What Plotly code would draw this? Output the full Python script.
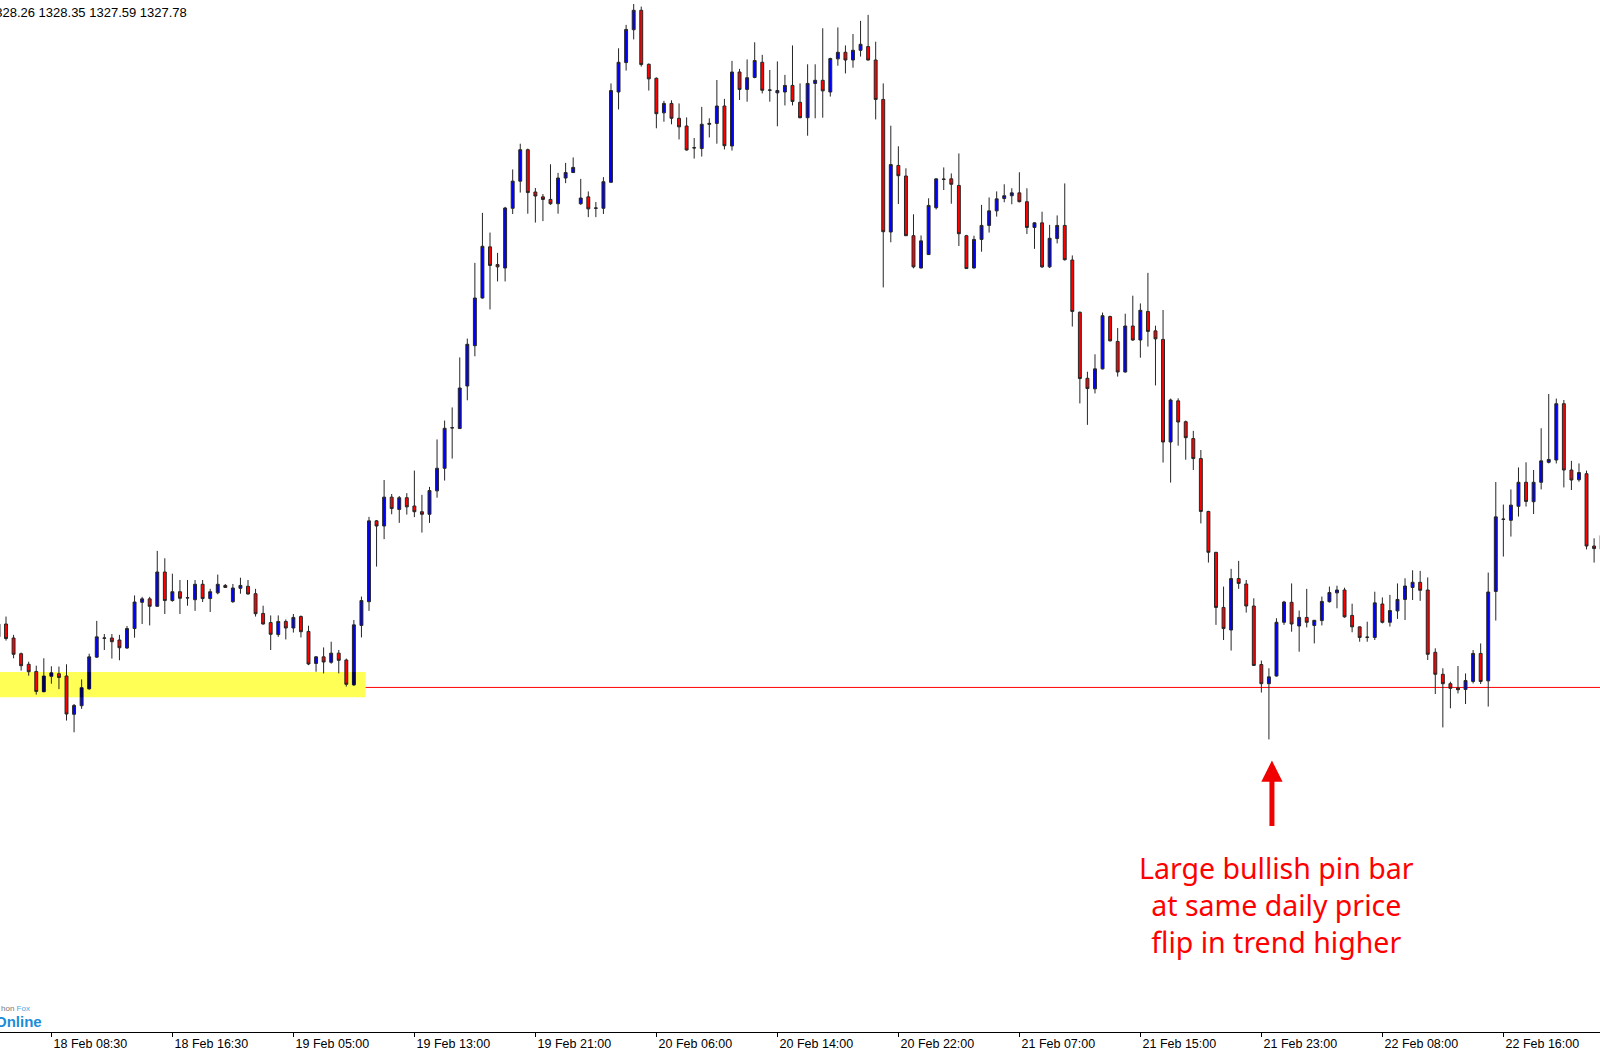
import plotly.graph_objects as go

# ---------------- data (XAUUSD M30) ----------------
open_ = [
    1324.71, 1325.16, 1324.67, 1324.12, 1323.75, 1323.50, 1322.79, 1323.33, 1323.42, 1323.34,
    1322.00, 1322.30, 1322.89, 1324.00, 1324.66, 1324.67, 1324.60, 1324.32, 1325.00, 1325.92,
    1326.04, 1325.78, 1326.98, 1325.98, 1326.29, 1326.07, 1326.01, 1326.55, 1326.05, 1326.25,
    1326.51, 1325.94, 1326.41, 1326.48, 1326.22, 1325.53, 1325.21, 1324.79, 1325.25, 1325.02,
    1325.42, 1324.90, 1323.78, 1324.01, 1323.82, 1324.14, 1323.90, 1323.03, 1325.11, 1325.94,
    1328.77, 1328.59, 1329.60, 1329.17, 1329.58, 1329.29, 1329.09, 1329.00, 1329.82, 1330.61,
    1332.02, 1332.00, 1333.49, 1334.90, 1336.57, 1338.36, 1337.74, 1337.62, 1339.71, 1340.66,
    1341.76, 1340.28, 1340.11, 1340.02, 1339.87, 1340.77, 1340.96, 1339.87, 1340.11, 1339.71,
    1339.71, 1340.62, 1343.78, 1344.81, 1345.96, 1346.64, 1344.75, 1344.26, 1343.05, 1343.38,
    1342.86, 1342.59, 1341.82, 1341.80, 1342.65, 1342.68, 1343.29, 1341.89, 1344.48, 1343.87,
    1344.29, 1344.82, 1343.84, 1343.75, 1343.78, 1344.01, 1343.42, 1342.88, 1344.08, 1344.19,
    1343.78, 1344.94, 1345.17, 1344.90, 1345.24, 1345.37, 1344.90, 1343.52, 1338.88, 1341.21,
    1340.84, 1338.75, 1337.62, 1338.09, 1339.73, 1340.72, 1340.74, 1340.51, 1338.75, 1337.62,
    1338.62, 1339.11, 1339.62, 1340.05, 1340.15, 1340.25, 1339.94, 1339.04, 1339.20, 1337.66,
    1338.65, 1339.11, 1337.90, 1336.07, 1333.76, 1333.39, 1334.09, 1335.92, 1335.05, 1333.98,
    1335.59, 1335.10, 1336.10, 1335.42, 1335.12, 1331.53, 1332.97, 1332.24, 1331.65, 1330.95,
    1329.10, 1327.67, 1325.74, 1324.95, 1326.75, 1326.56, 1325.79, 1323.74, 1323.07, 1323.34,
    1325.22, 1325.92, 1325.09, 1325.39, 1325.11, 1325.28, 1325.94, 1326.25, 1326.35, 1325.46,
    1325.06, 1324.69, 1324.69, 1325.86, 1325.22, 1325.62, 1326.02, 1326.44, 1326.62, 1326.35,
    1324.17, 1323.40, 1323.07, 1322.92, 1322.87, 1323.15, 1324.13, 1323.17, 1326.30, 1328.82,
    1328.79, 1329.28, 1330.12, 1329.44, 1330.12, 1330.82, 1330.90, 1332.87, 1330.55, 1330.21,
    1330.42, 1327.89, 1328.26,
]
high = [
    1325.30, 1325.42, 1324.78, 1324.16, 1323.84, 1323.70, 1323.96, 1323.68, 1323.67, 1323.75,
    1322.36, 1323.22, 1324.12, 1325.27, 1324.81, 1324.81, 1324.78, 1325.09, 1326.16, 1326.11,
    1326.11, 1327.72, 1327.46, 1326.92, 1326.70, 1326.70, 1326.70, 1326.70, 1326.39, 1326.89,
    1326.56, 1326.56, 1326.78, 1326.70, 1326.39, 1325.80, 1325.46, 1325.46, 1325.32, 1325.51,
    1325.46, 1325.10, 1324.04, 1324.34, 1324.54, 1324.25, 1323.95, 1325.30, 1326.12, 1328.91,
    1328.80, 1330.20, 1329.71, 1329.64, 1329.74, 1330.53, 1329.68, 1329.96, 1331.62, 1332.28,
    1332.74, 1334.49, 1335.15, 1337.80, 1339.55, 1338.86, 1338.15, 1339.76, 1341.07, 1341.97,
    1341.80, 1340.42, 1340.21, 1341.25, 1340.95, 1341.30, 1341.49, 1340.74, 1340.30, 1339.93,
    1340.80, 1344.08, 1345.31, 1346.13, 1346.86, 1346.77, 1344.78, 1344.29, 1343.47, 1343.49,
    1343.38, 1342.89, 1342.17, 1343.26, 1342.86, 1344.20, 1343.54, 1344.87, 1344.59, 1344.92,
    1345.52, 1345.08, 1344.55, 1344.85, 1344.38, 1345.41, 1344.08, 1344.75, 1344.75, 1346.01,
    1344.98, 1346.04, 1345.41, 1345.81, 1346.27, 1346.48, 1345.54, 1344.08, 1342.60, 1341.88,
    1341.11, 1339.50, 1338.76, 1340.06, 1340.75, 1341.14, 1340.93, 1341.63, 1338.78, 1338.75,
    1339.83, 1340.09, 1340.30, 1340.55, 1340.41, 1340.97, 1340.41, 1339.22, 1339.59, 1339.13,
    1339.46, 1340.58, 1338.06, 1336.10, 1333.99, 1334.60, 1336.06, 1335.95, 1335.52, 1336.02,
    1336.65, 1336.38, 1337.45, 1335.60, 1336.15, 1333.05, 1333.06, 1332.28, 1331.92, 1331.25,
    1329.12, 1327.68, 1326.47, 1327.09, 1327.37, 1326.70, 1326.06, 1323.88, 1323.61, 1325.36,
    1325.97, 1326.58, 1325.63, 1326.39, 1325.30, 1326.12, 1326.47, 1326.50, 1326.43, 1325.87,
    1325.07, 1325.24, 1326.29, 1326.09, 1326.18, 1326.58, 1326.76, 1327.04, 1327.02, 1326.79,
    1324.31, 1323.61, 1323.14, 1323.69, 1323.43, 1324.25, 1324.48, 1326.96, 1330.13, 1329.34,
    1329.87, 1330.64, 1330.82, 1330.55, 1332.01, 1333.21, 1333.05, 1333.00, 1330.87, 1330.78,
    1330.53, 1328.16, 1328.35,
]
low = [
    1324.60, 1324.58, 1323.96, 1323.53, 1323.35, 1322.69, 1322.77, 1323.07, 1322.88, 1321.78,
    1321.37, 1322.19, 1322.86, 1323.97, 1324.25, 1323.95, 1323.89, 1324.29, 1324.68, 1325.16,
    1325.11, 1325.76, 1325.51, 1325.94, 1325.51, 1325.80, 1325.62, 1325.93, 1325.58, 1326.20,
    1326.42, 1325.90, 1326.22, 1326.19, 1325.42, 1325.14, 1324.25, 1324.71, 1324.62, 1324.86,
    1324.69, 1323.72, 1323.49, 1323.43, 1323.77, 1323.43, 1322.97, 1322.99, 1324.69, 1325.62,
    1327.17, 1328.13, 1329.00, 1328.70, 1328.99, 1328.90, 1328.36, 1328.70, 1329.58, 1330.18,
    1330.95, 1331.99, 1332.99, 1334.53, 1336.55, 1336.17, 1337.15, 1337.15, 1339.51, 1340.26,
    1339.52, 1339.21, 1339.26, 1339.83, 1339.52, 1340.59, 1340.95, 1339.83, 1339.40, 1339.40,
    1339.51, 1340.60, 1343.17, 1344.53, 1345.62, 1344.67, 1343.83, 1342.51, 1342.74, 1342.65,
    1342.12, 1341.73, 1341.45, 1341.52, 1342.19, 1341.97, 1341.77, 1341.73, 1343.50, 1343.44,
    1344.26, 1343.73, 1343.44, 1342.58, 1343.31, 1343.31, 1342.86, 1342.25, 1342.86, 1342.88,
    1343.62, 1344.70, 1344.43, 1344.63, 1345.02, 1344.88, 1342.82, 1336.94, 1338.52, 1339.86,
    1338.74, 1337.61, 1337.60, 1338.08, 1339.67, 1340.35, 1339.87, 1338.39, 1337.59, 1337.60,
    1338.19, 1338.86, 1339.42, 1339.92, 1339.85, 1339.92, 1338.81, 1338.29, 1337.62, 1337.62,
    1338.48, 1337.88, 1335.57, 1332.88, 1332.13, 1333.23, 1334.07, 1335.05, 1333.82, 1333.96,
    1335.07, 1334.48, 1334.87, 1333.51, 1330.81, 1330.11, 1331.40, 1330.91, 1330.55, 1328.68,
    1327.31, 1325.13, 1324.60, 1324.23, 1326.39, 1325.56, 1323.69, 1322.76, 1321.12, 1323.32,
    1325.13, 1324.89, 1324.19, 1325.04, 1324.48, 1325.11, 1325.91, 1325.71, 1325.38, 1324.87,
    1324.54, 1324.54, 1324.60, 1325.18, 1325.07, 1325.34, 1325.30, 1326.00, 1325.97, 1323.90,
    1322.71, 1321.54, 1322.21, 1322.73, 1322.36, 1323.08, 1323.06, 1322.27, 1325.28, 1327.52,
    1328.22, 1328.92, 1329.27, 1329.01, 1329.87, 1330.78, 1330.78, 1329.94, 1329.85, 1330.14,
    1327.77, 1327.31, 1327.59,
]
close = [
    1325.16, 1324.65, 1324.10, 1323.70, 1323.49, 1322.80, 1323.34, 1323.45, 1323.29, 1322.01,
    1322.31, 1322.93, 1324.01, 1324.71, 1324.67, 1324.54, 1324.33, 1325.00, 1325.93, 1326.04,
    1325.78, 1326.98, 1325.98, 1326.29, 1326.06, 1326.08, 1326.55, 1326.05, 1326.29, 1326.55,
    1326.44, 1326.42, 1326.51, 1326.21, 1325.52, 1325.16, 1324.80, 1325.25, 1325.02, 1325.39,
    1324.89, 1323.76, 1324.01, 1323.83, 1324.14, 1323.89, 1323.05, 1325.13, 1325.98, 1328.77,
    1328.59, 1329.60, 1329.20, 1329.58, 1329.26, 1329.09, 1329.00, 1329.83, 1330.61, 1332.01,
    1332.03, 1333.42, 1334.95, 1336.57, 1338.38, 1337.71, 1337.66, 1339.72, 1340.66, 1341.76,
    1340.26, 1340.14, 1340.02, 1339.87, 1340.77, 1340.96, 1341.14, 1340.07, 1339.69, 1339.72,
    1340.64, 1343.83, 1344.82, 1345.97, 1346.64, 1344.74, 1344.24, 1343.02, 1343.38, 1342.86,
    1342.56, 1341.75, 1341.83, 1342.65, 1342.68, 1343.29, 1341.90, 1344.48, 1343.87, 1344.28,
    1344.88, 1343.84, 1343.85, 1343.83, 1344.01, 1343.45, 1342.88, 1344.08, 1344.19, 1343.82,
    1344.95, 1345.17, 1344.90, 1345.24, 1345.45, 1344.90, 1343.52, 1338.89, 1341.24, 1340.85,
    1338.75, 1337.66, 1338.57, 1339.81, 1340.74, 1340.73, 1340.55, 1338.82, 1337.60, 1338.62,
    1339.11, 1339.62, 1340.04, 1340.15, 1340.25, 1339.94, 1339.04, 1339.20, 1337.66, 1338.66,
    1339.11, 1337.91, 1336.10, 1333.75, 1333.40, 1334.09, 1335.95, 1335.07, 1333.98, 1335.59,
    1335.10, 1336.14, 1335.40, 1335.14, 1331.53, 1333.00, 1332.23, 1331.68, 1330.95, 1329.10,
    1327.67, 1325.74, 1325.00, 1326.75, 1326.58, 1325.79, 1323.71, 1323.07, 1323.31, 1325.22,
    1325.93, 1325.16, 1325.39, 1325.22, 1325.29, 1325.95, 1326.26, 1326.35, 1325.41, 1325.06,
    1324.69, 1324.70, 1325.90, 1325.22, 1325.63, 1326.02, 1326.49, 1326.62, 1326.34, 1324.10,
    1323.40, 1323.07, 1322.91, 1322.86, 1323.18, 1324.13, 1323.15, 1326.28, 1328.91, 1328.83,
    1329.32, 1330.12, 1329.45, 1330.12, 1330.87, 1330.92, 1332.87, 1330.55, 1330.20, 1330.46,
    1327.89, 1327.80, 1327.78,
]
bar_index = list(range(len(close)))

# time-axis labels (every 16 bars)
tick_bars = [7, 23, 39, 55, 71, 87, 103, 119, 135, 151, 167, 183, 199]
tick_labels = ["18 Feb 08:30", "18 Feb 16:30", "19 Feb 05:00", "19 Feb 13:00",
               "19 Feb 21:00", "20 Feb 06:00", "20 Feb 14:00", "20 Feb 22:00",
               "21 Feb 07:00", "21 Feb 15:00", "21 Feb 23:00", "22 Feb 08:00",
               "22 Feb 16:00"]
hidden_tick_bar = -9
hidden_tick_label = "18 Feb 00:30"

# support zone / level
level_price = 1322.94
zone_top = 1323.48
zone_bottom = 1322.60
zone_end_bar = 48.56
pin_bar = 168
note_lines = ["Large bullish pin bar", "at same daily price", "flip in trend higher"]

# ---------------- figure ----------------
BLUE, RED, NAVY, YELLOW = "#0000FF", "#FF0000", "#000055", "#FFFF55"
OUTLINE = "#262626"
AXIS_FONT = dict(family="Liberation Sans", size=12.5, color="#000000")

fig = go.Figure()
fig.add_trace(go.Candlestick(
    x=bar_index, open=open_, high=high, low=low, close=close,
    increasing=dict(fillcolor=BLUE, line=dict(color=OUTLINE, width=1)),
    decreasing=dict(fillcolor=RED, line=dict(color=OUTLINE, width=1)),
    whiskerwidth=0, hoverinfo="skip", showlegend=False,
))

# blue bodies look dark where they cross the yellow zone
ov_x, ov_lo, ov_hi = [], [], []
for i, (o, c) in enumerate(zip(open_, close)):
    if i <= zone_end_bar and c > o:
        lo, hi = max(o, zone_bottom), min(c, zone_top)
        if hi > lo:
            ov_x.append(i); ov_lo.append(lo); ov_hi.append(hi)
fig.add_trace(go.Candlestick(
    x=ov_x, open=ov_lo, close=ov_hi, high=ov_hi, low=ov_lo,
    increasing=dict(fillcolor=NAVY, line=dict(color=NAVY, width=0)),
    decreasing=dict(fillcolor=NAVY, line=dict(color=NAVY, width=0)),
    whiskerwidth=0, hoverinfo="skip", showlegend=False,
))

fig.add_shape(type="rect", xref="x", yref="y", x0=-2, x1=zone_end_bar,
              y0=zone_bottom, y1=zone_top, fillcolor=YELLOW, line_width=0, layer="below")
fig.add_shape(type="line", xref="paper", yref="y", x0=0, x1=1,
              y0=level_price, y1=level_price, line=dict(color="#FF0000", width=1), layer="below")

ann = []
# header (current bar OHLC)
ann.append(dict(xref="paper", yref="paper", x=189 / 1600, y=0.988, xanchor="right", yanchor="middle",
                text=f"{open_[-1]:.2f} {high[-1]:.2f} {low[-1]:.2f} {close[-1]:.2f}",
                showarrow=False, font=dict(family="Liberation Sans", size=13, color="#000000")))
# partially visible first time label
ann.append(dict(xref="x", yref="paper", x=hidden_tick_bar, y=0, yshift=-3, xanchor="left", yanchor="top",
                text=hidden_tick_label, showarrow=False, font=AXIS_FONT))
# watermark
ann.append(dict(xref="paper", yref="paper", x=-7 / 1600, y=0.0105, xanchor="left", yanchor="middle",
                text="<b>Online</b>", showarrow=False,
                font=dict(family="Liberation Sans", size=15, color="#1B8DD8")))
ann.append(dict(xref="paper", yref="paper", x=-1 / 1600, y=0.0225, xanchor="left", yanchor="middle",
                text='<span style="color:#777777">hon</span> <span style="color:#49A8E8">Fox</span>',
                showarrow=False, font=dict(family="Liberation Sans", size=8)))
# note text
ann.append(dict(xref="paper", yref="paper", x=1276 / 1600, y=(1032 - 905) / 1032,
                xanchor="center", yanchor="middle", text="<br>".join(note_lines), showarrow=False,
                font=dict(family="Noto Sans", size=28.5, color="#FF0000")))
# arrow to the pin bar
ann.append(dict(xref="x", yref="y", x=pin_bar + 0.4, y=low[pin_bar] - 0.74, text="",
                showarrow=True, ax=0, ay=67, arrowhead=2, arrowsize=0.85, arrowwidth=5,
                arrowcolor="#F00000", standoff=0))

fig.update_layout(
    width=1600, height=1050,
    margin=dict(l=0, r=0, t=0, b=18, pad=0, autoexpand=False),
    paper_bgcolor="#FFFFFF", plot_bgcolor="#FFFFFF",
    boxgap=0.45,
    showlegend=False,
    annotations=ann,
    xaxis=dict(range=[0.206, 211.78], showgrid=False, zeroline=False, automargin=False,
               rangeslider=dict(visible=False),
               tickmode="array", tickvals=tick_bars, ticktext=tick_labels,
               ticks="outside", ticklen=4, tickcolor="#000000", tickwidth=1,
               ticklabelshift=39, ticklabelstandoff=-4,
               showline=True, linecolor="#000000", linewidth=1,
               tickfont=AXIS_FONT),
    yaxis=dict(range=[1310.88, 1347.0], visible=False, showgrid=False, zeroline=False,
               automargin=False),
)

fig.write_html("out.html", config={"displayModeBar": False},
               post_script="document.body.style.margin='0px';")
